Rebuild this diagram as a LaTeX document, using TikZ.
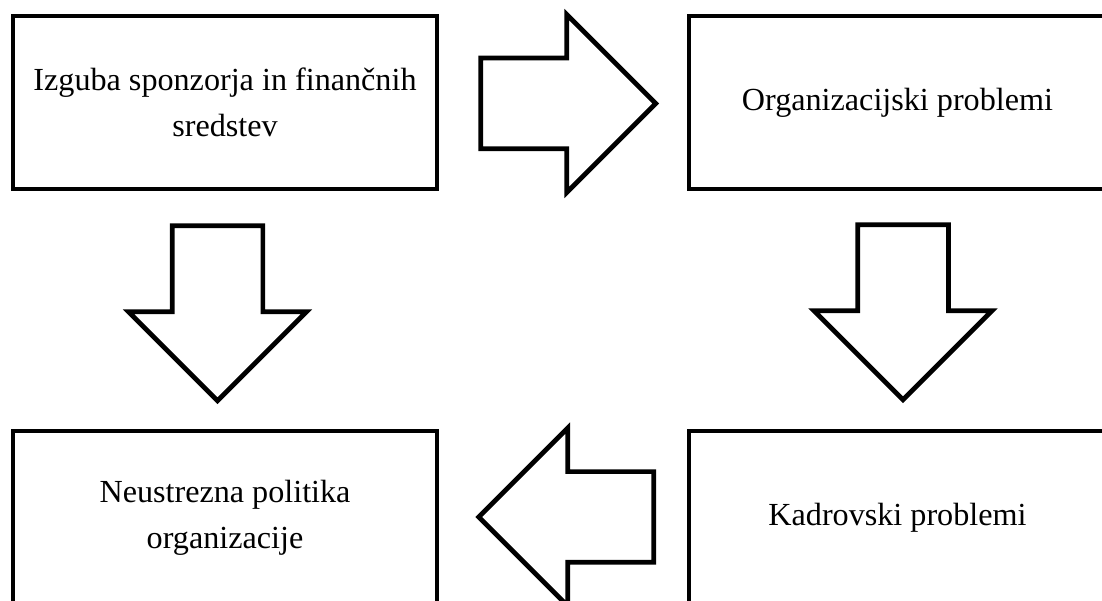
\documentclass[tikz,border=0pt]{standalone}
\usepackage{fontspec}
\setmainfont{Liberation Serif}
\usetikzlibrary{shapes.arrows, calc}
\def\arrowlen{3.5cm}

\begin{document}
\begin{tikzpicture}[line width=2.7pt, draw=black]
    \tikzstyle{box}=[rectangle, draw=black, minimum width=8.48cm, minimum height=3.46cm, inner sep=0pt, align=center, font=\fontsize{18.3pt}{26.2pt}\selectfont]
    \tikzstyle{wide box}=[box, minimum width=8.34cm]
    \tikzstyle{block arrow}=[single arrow, draw=black, fill=white, anchor=tail, minimum height=\arrowlen, inner xsep=0pt, inner ysep=0.86cm, single arrow head extend=0.87cm, single arrow tip angle=90]

    \useasboundingbox (0,0) rectangle (22.04,-12.02);

    \node[box] (izguba) at (4.5,-2.05) {Izguba sponzorja in finančnih\\sredstev};
    \node[wide box] (org) at (17.95,-2.05) {Organizacijski problemi};
    \node[box] (politika) at (4.5,-10.35) {Neustrezna politika\\organizacije};
    \node[wide box] (kadri) at (17.95,-10.35) {Kadrovski problemi};

    \node[block arrow] (izguba-org) at ($(izguba.east)+(0.78,-0.02)$) {};
    \node[block arrow, rotate=-90] (izguba-politika) at ($(izguba.south)+(-0.15,-0.64)$) {};
    \node[block arrow, rotate=-90] (org-kadri) at ($(org.south)+(0.11,-0.62)$) {};
    \node[block arrow, rotate=180] (kadri-politika) at ($(kadri.west)+(-0.61,0.01)$) {};
\end{tikzpicture}
\end{document}
